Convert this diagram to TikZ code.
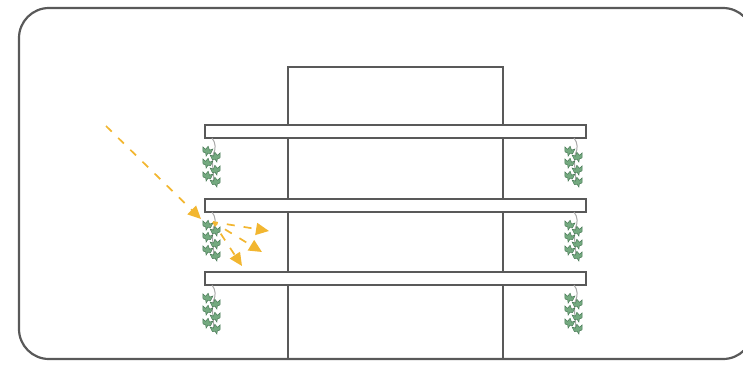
\documentclass[tikz,border=0pt]{standalone}
\usetikzlibrary{arrows.meta}
\definecolor{wall}{HTML}{595959}
\definecolor{stem}{HTML}{A8A8A8}
\definecolor{ivy}{HTML}{74AA80}
\definecolor{ivyedge}{HTML}{4A7A57}
\definecolor{sun}{HTML}{F2B630}

\tikzset{
  leaf/.pic={\path[fill=ivy,draw=ivyedge,line width=0.5pt,scale=1.3] (0,-4.5) -- (1.6,-1.8) -- (4,-3.2) -- (3,0.6) -- (0.9,0.8) -- (0,3.2) -- (-0.9,0.8) -- (-3,0.6) -- (-4,-3.2) -- (-1.6,-1.8) -- cycle;},
  vine/.pic={
    \draw[stem,line width=1pt] (0,0) .. controls (4,5) and (4,11) .. (1,17) .. controls (-1,27) and (3,36) .. (1,46);
    \foreach \y/\x/\a in {14/-5/-12,20/4/12,26/-5/-12,33/4/12,39/-5/-12,45/4/12}
      \pic[rotate=\a] at (\x,\y) {leaf};
  }
}

\begin{document}
\begin{tikzpicture}[x=1pt,y=-1pt,
  wall/.style={draw=wall,line width=2.8pt},
  slab/.style={wall,fill=white,inner sep=0pt,outer sep=0pt,minimum width=381pt,minimum height=13pt},
  ray/.style={sun,line width=1.7pt,dash pattern=on 8pt off 9pt,-{Triangle[length=13pt,width=12pt]}}]
\useasboundingbox (0,0) rectangle (743,383);
% outer frame, runs off the right edge
\draw[wall,line width=2.2pt,rounded corners=30pt] (19,8) rectangle (753,359);
% building core
\node[wall,inner sep=0pt,outer sep=0pt,minimum width=215pt,minimum height=292pt] (tower) at (395.5,213) {};
% floor slabs with hanging ivy
\foreach \n/\y in {1/131.5,2/205.5,3/278.5}{
  \node[slab] (f\n) at (395.5,\y) {};
  \pic at ([xshift=7pt]f\n.south west) {vine};
  \pic at ([xshift=-12pt]f\n.south east) {vine};
}
% sunlight hitting the ivy and scattering
\coordinate (sunray) at (106,126);
\coordinate (hit) at (201,219);
\coordinate (bounce) at (213,222);
\coordinate (r1) at (269,231);
\coordinate (r2) at (262,252);
\coordinate (r3) at (242,266);
\draw[ray] (sunray) -- (hit);
\foreach \r in {r1,r2,r3}
  \draw[ray,dash phase=3pt] (bounce) -- (\r);
\end{tikzpicture}
\end{document}
